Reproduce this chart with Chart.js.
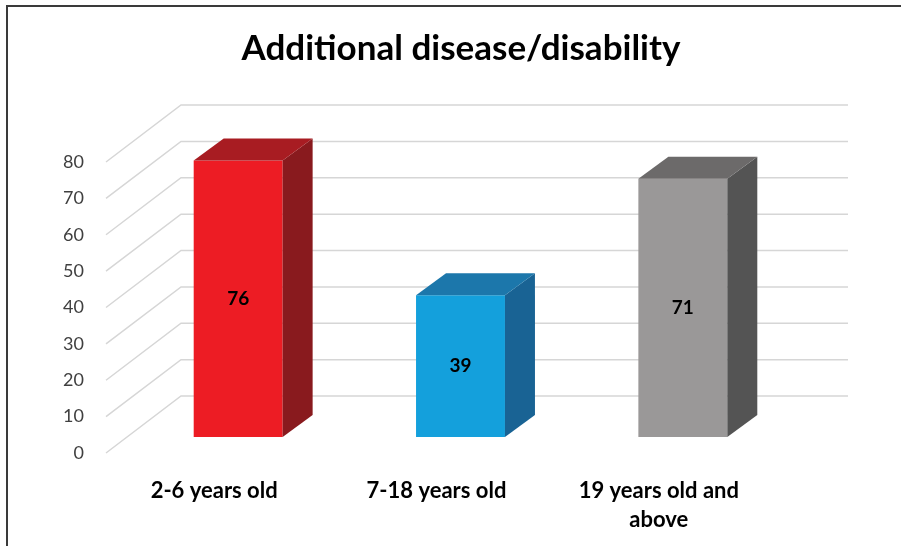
<!DOCTYPE html>
<html>
<head>
<meta charset="utf-8">
<title>Additional disease/disability</title>
<script src="https://cdn.jsdelivr.net/npm/chart.js@4.4.1/dist/chart.umd.min.js"></script>
<style>
  html, body { margin: 0; padding: 0; background: #fff; }
  #wrap { position: relative; width: 901px; height: 546px; }
</style>
</head>
<body>
<div id="wrap"><canvas id="chart" width="901" height="546"></canvas></div>
<script>
const TITLE = "Additional disease/disability";
const categories = ["2-6 years old", "7-18 years old", ["19 years old and", "above"]];
const values = [76, 39, 71];
const yTicks = [0, 10, 20, 30, 40, 50, 60, 70, 80];

const frontColors = ["#ed1c24", "#14a0dc", "#9a9898"];
const topColors = ["#a81c22", "#1c77ab", "#6c6a6a"];
const sideColors = ["#891a1e", "#196394", "#545454"];

// fake 3d: bar depth, back wall and label plane offsets (px) from the bar front plane
const BAR_DEPTH = { dx: 30, dy: -22 };
const WALL = { dx: 54, dy: -41 };
const LABEL_PLANE = { dx: -21, dy: 16 };
const FONT = "Lato, 'Open Sans', sans-serif";

/* frame + title */
const frame = {
  id: "frame",
  beforeDraw(chart) {
    const { ctx, width, height } = chart;
    ctx.save();
    ctx.strokeStyle = "#3a3a3a";
    ctx.lineWidth = 2;
    ctx.beginPath();
    ctx.moveTo(7, height);
    ctx.lineTo(7, 6);
    ctx.lineTo(width, 6);
    ctx.stroke();

    ctx.fillStyle = "#000";
    ctx.font = `bold 35px ${FONT}`;
    ctx.textAlign = "center";
    ctx.textBaseline = "middle";
    ctx.fillText(TITLE, 461, 49);
    ctx.restore();
  }
};

/* back wall gridlines + diagonals to the label plane */
const backWall = {
  id: "backWall",
  beforeDatasetsDraw(chart) {
    const { ctx, chartArea: a, scales: { y } } = chart;
    ctx.save();
    ctx.strokeStyle = "#d6d6d6";
    ctx.lineWidth = 1.5;
    y.ticks.forEach(t => {
      const py = y.getPixelForValue(t.value);
      const by = py + WALL.dy;
      ctx.beginPath();
      ctx.moveTo(a.left + LABEL_PLANE.dx, py + LABEL_PLANE.dy);
      ctx.lineTo(a.left + WALL.dx, by);
      ctx.lineTo(a.right + WALL.dx, by);
      ctx.stroke();
    });
    ctx.restore();
  }
};

/* side + top faces of each column, value in the middle of the front */
const boxes = {
  id: "boxes",
  afterDatasetsDraw(chart) {
    const { ctx } = chart;
    const { dx, dy } = BAR_DEPTH;
    ctx.save();
    chart.getDatasetMeta(0).data.forEach((bar, i) => {
      const { x, y, base, width } = bar.getProps(["x", "y", "base", "width"], true);
      const l = x - width / 2, r = x + width / 2;

      ctx.fillStyle = sideColors[i];
      ctx.beginPath();
      ctx.moveTo(r, y);
      ctx.lineTo(r + dx, y + dy);
      ctx.lineTo(r + dx, base + dy);
      ctx.lineTo(r, base);
      ctx.closePath();
      ctx.fill();

      ctx.fillStyle = topColors[i];
      ctx.beginPath();
      ctx.moveTo(l, y);
      ctx.lineTo(l + dx, y + dy);
      ctx.lineTo(r + dx, y + dy);
      ctx.lineTo(r, y);
      ctx.closePath();
      ctx.fill();

      ctx.fillStyle = "#000";
      ctx.font = `bold 19px ${FONT}`;
      ctx.textAlign = "center";
      ctx.textBaseline = "middle";
      ctx.fillText(values[i], x, (y + base) / 2);
    });
    ctx.restore();
  }
};

new Chart(document.getElementById("chart"), {
  type: "bar",
  data: {
    labels: categories,
    datasets: [{
      data: values,
      backgroundColor: frontColors,
      categoryPercentage: 1,
      barPercentage: 0.4
    }]
  },
  options: {
    responsive: false,
    animation: false,
    layout: { padding: { top: 146, right: 107, bottom: 0, left: 0 } },
    plugins: {
      legend: { display: false },
      tooltip: { enabled: false }
    },
    scales: {
      x: {
        grid: { display: false, drawTicks: false },
        border: { display: false },
        ticks: {
          font: { family: FONT, size: 22, weight: "bold", lineHeight: 1.3 },
          color: "#000",
          padding: 40,
          labelOffset: -24,
          maxRotation: 0
        },
        afterFit: s => { s.height = 109; }
      },
      y: {
        min: 0,
        max: 80,
        afterBuildTicks: s => { s.ticks = yTicks.map(v => ({ value: v })); },
        grid: { display: false, drawTicks: false },
        border: { display: false },
        ticks: {
          font: { family: FONT, size: 18 },
          color: "#404040",
          padding: 43,
          labelOffset: 16
        },
        afterFit: s => { s.width = 127; }
      }
    }
  },
  plugins: [frame, backWall, boxes]
});
</script>
</body>
</html>
